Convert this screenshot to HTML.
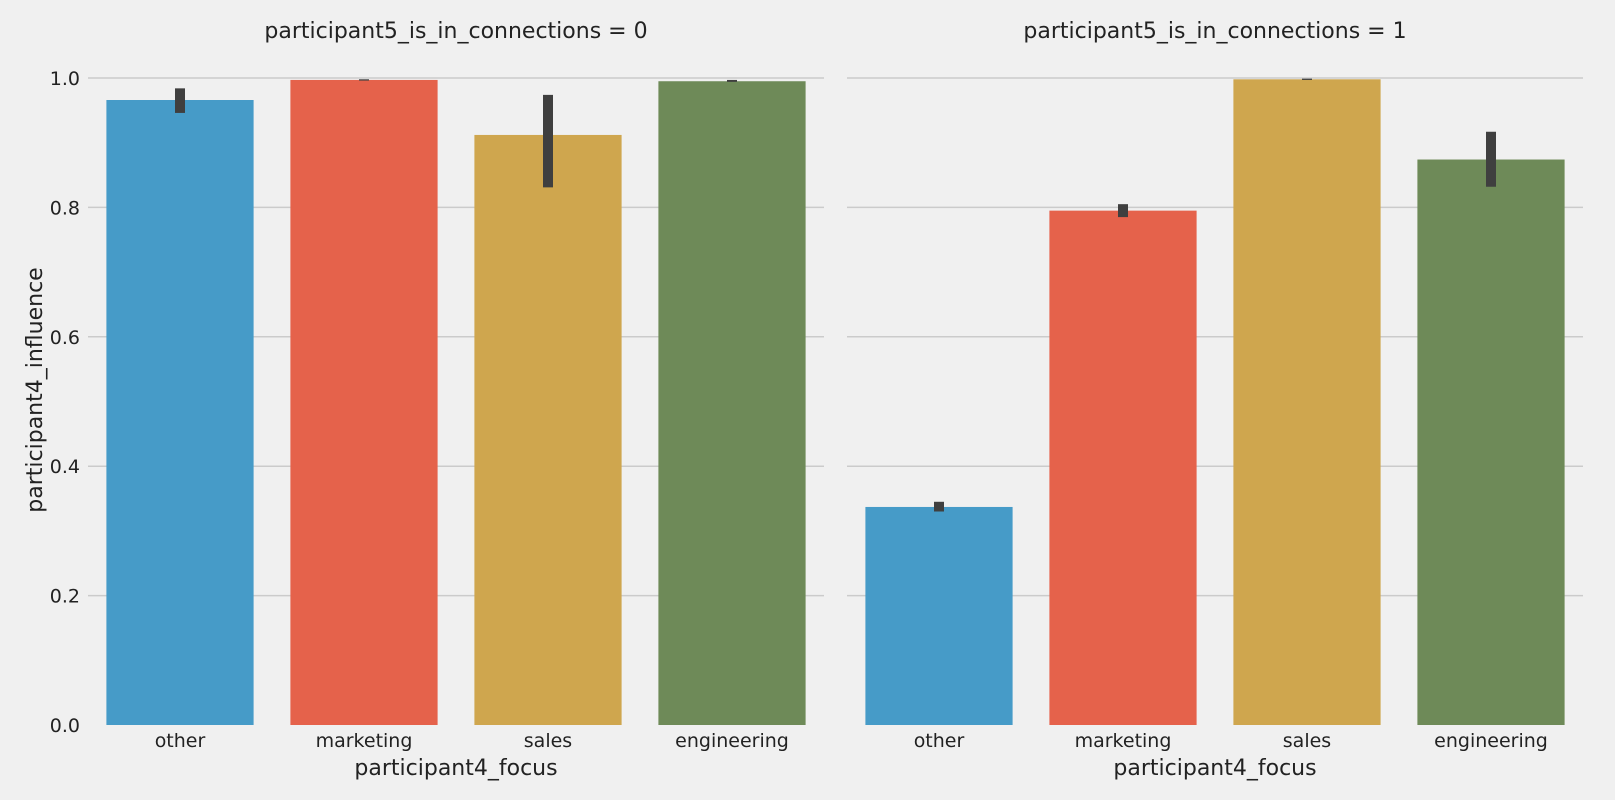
<!DOCTYPE html>
<html><head><meta charset="utf-8"><style>
html,body{margin:0;padding:0;background:#f0f0f0;}
svg{display:block;font-family:"DejaVu Sans","Liberation Sans",sans-serif;}
</style></head><body>
<svg id="chart" width="1615" height="800" viewBox="0 0 1615 800"></svg>
<script>
const categories = ["other","marketing","sales","engineering"];
const panelTitles = ["participant5_is_in_connections = 0","participant5_is_in_connections = 1"];
const values0 = [0.966, 0.997, 0.912, 0.995];
const errLow0 = [0.946, 0.996, 0.831, 0.994];
const errHigh0 = [0.984, 0.998, 0.974, 0.997];
const values1 = [0.337, 0.795, 0.998, 0.874];
const errLow1 = [0.330, 0.785, 0.997, 0.832];
const errHigh1 = [0.345, 0.805, 0.999, 0.917];
const yTicks = [0.0, 0.2, 0.4, 0.6, 0.8, 1.0];
const colors = ["#469bc8","#e5624b","#cfa64e","#6e8a58"];

const NS = "http://www.w3.org/2000/svg";
const svg = document.getElementById('chart');
function mk(tag, attrs, parent){const e=document.createElementNS(NS,tag);for(const k in attrs)e.setAttribute(k,attrs[k]);(parent||svg).appendChild(e);return e;}
const y0 = 725, yTop = 78;
function yScale(v){return y0 - v*(y0-yTop);}
const panels = [
  {x0:88, x1:824, vals:values0, lo:errLow0, hi:errHigh0, title:panelTitles[0]},
  {x0:847, x1:1583, vals:values1, lo:errLow1, hi:errHigh1, title:panelTitles[1]}
];
panels.forEach((p,pi)=>{
  const g = mk('g',{});
  
  
  const slot = (p.x1-p.x0)/categories.length;
  function xScale(i){return p.x0 + slot*(i+0.5);}
  yTicks.forEach(t=>{
    if(t>0){
      const l = mk('line',{x1:p.x0,x2:p.x1,y1:yScale(t),y2:yScale(t),stroke:'#cbcbcb','stroke-width':1.5},g);
      
      
    }
    if(pi===0){
      const tx = mk('text',{x:80,y:yScale(t)+7,'text-anchor':'end','font-size':19,fill:'#222'},g);
      tx.textContent = t.toFixed(1);
      
      
    }
  });
  categories.forEach((c,i)=>{
    const bw = slot*0.8;
    const r = mk('rect',{x:xScale(i)-bw/2,y:yScale(p.vals[i]),width:bw,height:yScale(0)-yScale(p.vals[i]),fill:colors[i]},g);
    
    
    const e = mk('line',{x1:xScale(i),x2:xScale(i),y1:yScale(p.lo[i]),y2:yScale(p.hi[i]),stroke:'#3f3f3f','stroke-width':10},g);
    
    
    const tx = mk('text',{x:xScale(i),y:747,'text-anchor':'middle','font-size':19,fill:'#222'},g);
    tx.textContent = c;
    
    
  });
  const tt = mk('text',{x:(p.x0+p.x1)/2,y:38,'text-anchor':'middle','font-size':22,fill:'#222'},g);
  tt.textContent = p.title;
  
  
  const xl = mk('text',{x:(p.x0+p.x1)/2,y:775,'text-anchor':'middle','font-size':22,fill:'#222'},g);
  xl.textContent = 'participant4_focus';
  
  
});
const yl = mk('text',{x:0,y:0,'text-anchor':'middle','font-size':22,fill:'#222',transform:'translate(42,390) rotate(-90)'});
yl.textContent = 'participant4_influence';


</script>
</body></html>
